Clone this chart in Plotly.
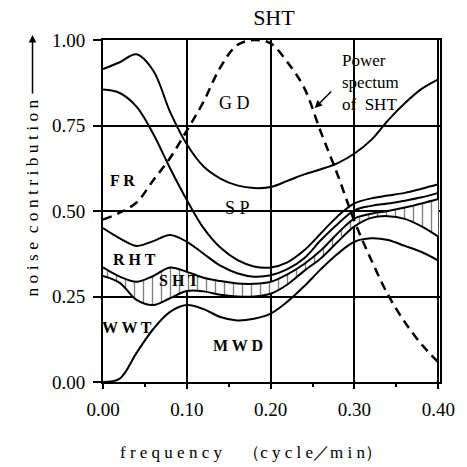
import plotly.graph_objects as go

# ---- data ----
freq = [0.00, 0.02, 0.04, 0.06, 0.08, 0.10, 0.12, 0.14, 0.16, 0.18, 0.20,
        0.22, 0.24, 0.26, 0.28, 0.30, 0.32, 0.34, 0.36, 0.38, 0.40]

gd_curve = [0.915, 0.935, 0.958, 0.910, 0.790, 0.695, 0.630, 0.595, 0.575, 0.567, 0.570,
            0.588, 0.607, 0.622, 0.640, 0.668, 0.708, 0.765, 0.815, 0.857, 0.885]
sp_curve = [0.855, 0.845, 0.805, 0.725, 0.625, 0.532, 0.450, 0.393, 0.357, 0.338, 0.335,
            0.350, 0.385, 0.435, 0.485, 0.522, 0.537, 0.545, 0.553, 0.565, 0.578]
fr_curve = [0.450, 0.420, 0.398, 0.412, 0.430, 0.410, 0.375, 0.340, 0.318, 0.308, 0.312,
            0.330, 0.362, 0.415, 0.462, 0.502, 0.515, 0.522, 0.530, 0.540, 0.553]
rht_curve = [0.335, 0.308, 0.293, 0.310, 0.335, 0.322, 0.305, 0.295, 0.288, 0.287, 0.293,
             0.315, 0.345, 0.385, 0.435, 0.478, 0.492, 0.500, 0.510, 0.522, 0.535]
sht_curve = [0.310, 0.290, 0.240, 0.225, 0.245, 0.266, 0.265, 0.255, 0.250, 0.250, 0.258,
             0.285, 0.325, 0.362, 0.410, 0.455, 0.480, 0.485, 0.477, 0.455, 0.425]
wwt_curve = [0.000, 0.010, 0.085, 0.155, 0.205, 0.225, 0.213, 0.190, 0.180, 0.185, 0.200,
             0.235, 0.280, 0.330, 0.375, 0.410, 0.420, 0.415, 0.398, 0.380, 0.355]
power_spectrum = [0.475, 0.495, 0.525, 0.590, 0.655, 0.735, 0.820, 0.920, 0.985, 1.000, 0.990,
                  0.935, 0.860, 0.730, 0.605, 0.470, 0.357, 0.255, 0.175, 0.110, 0.058]

x_ticks = [0.0, 0.1, 0.2, 0.3, 0.4]
x_ticklabels = ["0.00", "0.10", "0.20", "0.30", "0.40"]
y_ticks = [0.0, 0.25, 0.5, 0.75, 1.0]
y_ticklabels = ["0.00", "0.25", "0.50", "0.75", "1.00"]

SERIF = "Liberation Serif"
W = H = 467
L, R, T, B = 103, 452, 40, 382  # plot area in px


def px(xp):
    return (xp - L) / (R - L)


def py(yp):
    return (B - yp) / (B - T)


fig = go.Figure()
line = dict(color="black", width=2, shape="spline", smoothing=1.0)

fig.add_trace(go.Scatter(x=freq, y=wwt_curve, mode="lines", line=line, hoverinfo="skip"))
fig.add_trace(go.Scatter(x=freq, y=sht_curve, mode="lines", line=line, hoverinfo="skip"))
fig.add_trace(go.Scatter(x=freq, y=rht_curve, mode="lines", line=line, hoverinfo="skip",
                         fill="tonexty", fillcolor="rgba(0,0,0,0)",
                         fillpattern=dict(shape="|", fgcolor="black", bgcolor="white",
                                          size=9, solidity=0.15)))
fig.add_trace(go.Scatter(x=freq, y=fr_curve, mode="lines", line=line, hoverinfo="skip"))
fig.add_trace(go.Scatter(x=freq, y=sp_curve, mode="lines", line=line, hoverinfo="skip"))
fig.add_trace(go.Scatter(x=freq, y=gd_curve, mode="lines", line=line, hoverinfo="skip"))
fig.add_trace(go.Scatter(x=freq, y=power_spectrum, mode="lines", hoverinfo="skip",
                         line=dict(color="black", width=2.5, dash="9px,6px",
                                   shape="spline", smoothing=1.0)))

ann = []
bold = dict(family=SERIF, size=16, color="black", weight="bold")
reg = dict(family=SERIF, size=18, color="black")
for txt, fx, fy, f in [("G D", 0.157, 0.816, reg), ("S P", 0.160, 0.509, reg),
                       ("F R", 0.023, 0.590, bold), ("R H T", 0.037, 0.357, bold),
                       ("S H T", 0.091, 0.298, bold), ("W W T", 0.029, 0.158, bold),
                       ("M W D", 0.161, 0.108, bold)]:
    ann.append(dict(x=fx, y=fy, xref="x", yref="y", text=txt, showarrow=False, font=f))

ann.append(dict(x=0.283, y=0.877, xref="x", yref="y", xanchor="left", yanchor="middle",
                text="Power<br>spectum<br>of  SHT", align="left", showarrow=False,
                font=dict(family=SERIF, size=17, color="black")))
# arrow to the dashed curve
ann.append(dict(x=0.2525, y=0.801, xref="x", yref="y", text="", showarrow=True,
                ax=18, ay=-18, arrowhead=2, arrowsize=1, arrowwidth=1.5, arrowcolor="black"))
# y title + arrow
ann.append(dict(x=px(29), y=py(198), xref="paper", yref="paper", xanchor="center",
                yanchor="middle",
                text="n o i s e  c o n t r i b u t i o n", textangle=-90, showarrow=False,
                font=dict(family=SERIF, size=17.5, color="black")))
ann.append(dict(x=px(30), y=py(35), xref="paper", yref="paper", text="", showarrow=True,
                ax=0, ay=60, arrowhead=2, arrowsize=1, arrowwidth=1.5, arrowcolor="black"))
# x title
ann.append(dict(x=px(256), y=py(452), xref="paper", yref="paper", xanchor="center",
                yanchor="middle",
                text="f r e q u e n c y\u2003 （c y c l e／m i n）", showarrow=False,
                font=dict(family=SERIF, size=17, color="black")))

fig.update_layout(
    width=W, height=H,
    margin=dict(l=L, r=W - R, t=T, b=H - B, pad=0),
    paper_bgcolor="white", plot_bgcolor="white",
    showlegend=False,
    title=dict(text="SHT", x=px(280), xref="paper", xanchor="center",
               y=1 - 17 / H, yref="container", yanchor="middle",
               font=dict(family=SERIF, size=22, color="black")),
    annotations=ann,
    xaxis=dict(range=[0, 0.402], tickvals=x_ticks, ticktext=x_ticklabels,
               ticks="outside", ticklen=5, tickwidth=1.5, tickcolor="black",
               minor=dict(dtick=0.05, ticks="outside", ticklen=3, tickcolor="black", showgrid=False),
               showgrid=True, gridcolor="black", gridwidth=1.5,
               showline=True, linecolor="black", linewidth=2, mirror=True, zeroline=False,
               ticklabeloverflow="allow",
               tickfont=dict(family=SERIF, size=19, color="black"), ticklabelstandoff=4),
    yaxis=dict(range=[0, 1.0], tickvals=y_ticks, ticktext=y_ticklabels,
               ticks="outside", ticklen=8, tickwidth=1.5, tickcolor="black",
               showgrid=True, gridcolor="black", gridwidth=1.5,
               showline=True, linecolor="black", linewidth=2, mirror=True, zeroline=False,
               tickfont=dict(family=SERIF, size=19, color="black"), ticklabelstandoff=4),
)

fig.write_html("out.html")
